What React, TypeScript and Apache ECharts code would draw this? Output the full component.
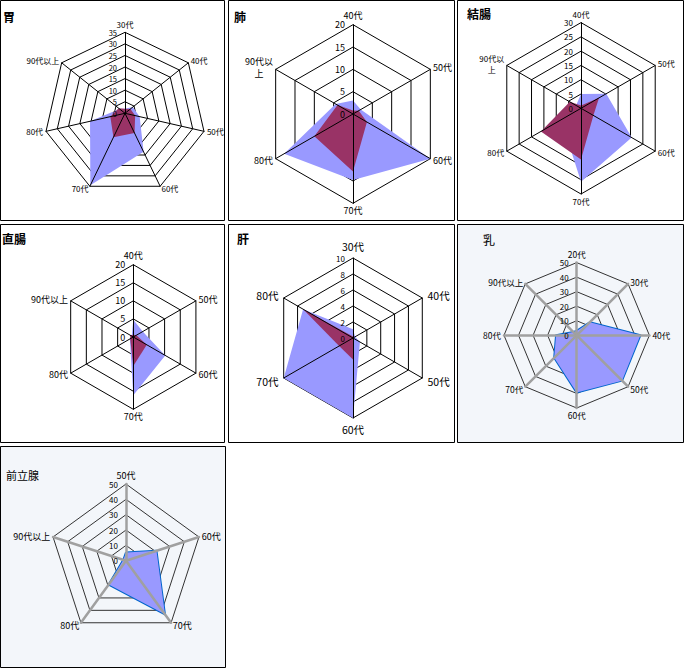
import React, { useEffect, useRef } from 'react';
import * as echarts from 'echarts';

const FONT = '"Noto Sans CJK JP", "Noto Sans", sans-serif';

// 胃
const stomachAxes = ['30代', '40代', '50代', '60代', '70代', '80代', '90代以上'];
const stomachS1 = [2, 4.3, 6.5, 18.5, 34.5, 15.5, 3];
const stomachS2 = [2, 3, 4.5, 9.5, 11.5, 6.5, 3.5];
// 肺
const lungAxes = ['40代', '50代', '60代', '70代', '80代', '90代以上'];
const lungS1 = [3, 2, 20, 14.8, 17.8, 4.5];
const lungS2 = [0.8, 1.5, 3.6, 12.9, 10, 4];
// 結腸
const colonAxes = ['40代', '50代', '60代', '70代', '80代', '90代以上'];
const colonS1 = [5, 10.2, 20.5, 25.7, 8, 2];
const colonS2 = [1, 7.3, 5, 17.9, 16.2, 4.5];
// 直腸
const rectumAxes = ['40代', '50代', '60代', '70代', '80代', '90代以上'];
const rectumS1 = [4.8, 3, 10.2, 16.1, 1.1, 0.5];
const rectumS2 = [0.6, 1, 4.3, 8, 1, 1];
// 肝
const liverAxes = ['30代', '40代', '50代', '60代', '70代', '80代'];
const liverS1 = [1.1, 0.3, 1, 10, 10, 7.2];
const liverS2 = [0.2, 0, 0, 2.7, 2, 7.2];
// 乳
const breastAxes = ['20代', '30代', '40代', '50代', '60代', '70代', '80代', '90代以上'];
const breastS1 = [3, 12.7, 43.8, 44.1, 39.4, 21.9, 14.2, 3.2];
// 前立腺
const prostateAxes = ['50代', '60代', '70代', '80代', '90代以上'];
const prostateS1 = [5.4, 20.9, 43.2, 19.2, 1.8];

const titles = ['胃', '肺', '結腸', '直腸', '肝', '乳', '前立腺'];
const maxes = [35, 20, 30, 20, 10, 50, 50];
const intervals = [5, 5, 5, 5, 2, 10, 10];

const COLOR1 = '#9999FF';
const COLOR2 = '#993366';

type Panel = {
  title: string;
  axes: string[];
  s1: number[];
  s2?: number[];
  max: number;
  interval: number;
  box: [number, number, number, number];
  center: [number, number];
  radius: number;
  modern: boolean;
  nameSize: number;
  nameGap: number;
  labelSize: number;
  titleBold: boolean;
  titleSize: number;
  titlePos: [number, number];
  wrap: boolean;
};

const panels: Panel[] = [
  { title: titles[0], axes: stomachAxes, s1: stomachS1, s2: stomachS2, max: maxes[0], interval: intervals[0],
    box: [0, 0, 225, 221], center: [125, 113.3], radius: 81, modern: false, nameSize: 8, nameGap: 3, labelSize: 7.5,
    titleBold: true, titleSize: 12, titlePos: [3, 10], wrap: false },
  { title: titles[1], axes: lungAxes, s1: lungS1, s2: lungS2, max: maxes[1], interval: intervals[1],
    box: [228, 0, 227, 221], center: [353, 114], radius: 89.3, modern: false, nameSize: 9, nameGap: 3, labelSize: 9,
    titleBold: true, titleSize: 12, titlePos: [234, 10], wrap: true },
  { title: titles[2], axes: colonAxes, s1: colonS1, s2: colonS2, max: maxes[2], interval: intervals[2],
    box: [457, 0, 227, 221], center: [581, 108.3], radius: 85.7, modern: false, nameSize: 8, nameGap: 3, labelSize: 8,
    titleBold: true, titleSize: 12, titlePos: [467, 7], wrap: true },
  { title: titles[3], axes: rectumAxes, s1: rectumS1, s2: rectumS2, max: maxes[3], interval: intervals[3],
    box: [0, 224, 225, 219], center: [133.3, 337], radius: 72.3, modern: false, nameSize: 9, nameGap: 3, labelSize: 9,
    titleBold: true, titleSize: 12, titlePos: [2, 232], wrap: false },
  { title: titles[4], axes: liverAxes, s1: liverS1, s2: liverS2, max: maxes[4], interval: intervals[4],
    box: [228, 224, 227, 219], center: [353, 338], radius: 80, modern: false, nameSize: 10.5, nameGap: 6, labelSize: 8,
    titleBold: true, titleSize: 12, titlePos: [237, 232], wrap: false },
  { title: titles[5], axes: breastAxes, s1: breastS1, max: maxes[5], interval: intervals[5],
    box: [457, 224, 227, 219], center: [576.7, 335.3], radius: 72.7, modern: true, nameSize: 8.5, nameGap: 3, labelSize: 8,
    titleBold: false, titleSize: 12, titlePos: [483, 233], wrap: false },
  { title: titles[6], axes: prostateAxes, s1: prostateS1, max: maxes[6], interval: intervals[6],
    box: [0, 446, 226, 222], center: [126, 560.7], radius: 76.7, modern: true, nameSize: 9, nameGap: 3, labelSize: 8,
    titleBold: false, titleSize: 11, titlePos: [6, 469], wrap: false },
];

// ECharts places indicators counter-clockwise; reorder so they run clockwise from the top.
function cw<T>(arr: T[]): T[] {
  return [arr[0], ...arr.slice(1).reverse()];
}

function buildOption() {
  const radar: any[] = [];
  const series: any[] = [];
  const title: any[] = [];
  const graphic: any[] = [];

  panels.forEach((p, i) => {
    const split = Math.round(p.max / p.interval);
    const ind = cw(p.axes);
    const labelStyle = { fontSize: p.labelSize, fontFamily: FONT, color: '#000000', margin: 8 };
    const lh = p.nameSize + 3;
    graphic.push({
      type: 'rect',
      z: -10,
      shape: { x: p.box[0] + 0.5, y: p.box[1] + 0.5, width: p.box[2] - 1, height: p.box[3] - 1 },
      style: { fill: p.modern ? '#F3F6FA' : '#FFFFFF', stroke: '#000000', lineWidth: 1 },
      silent: true,
    });
    title.push({
      text: p.title,
      left: p.titlePos[0],
      top: p.titlePos[1],
      padding: 0,
      textStyle: { fontSize: p.titleSize, fontWeight: p.titleBold ? 'bold' : 'normal', fontFamily: FONT, color: '#000' },
    });
    // base radar: rings only
    radar.push({
      center: p.center,
      radius: p.radius,
      startAngle: 90,
      shape: 'polygon',
      splitNumber: split,
      indicator: ind.map((n) => ({ name: n, min: 0, max: p.max })),
      axisName: { show: false },
      axisLine: { show: false },
      axisTick: { show: false },
      axisLabel: { show: false },
      splitArea: { show: false },
      splitLine: { show: true, lineStyle: { color: p.modern ? '#333333' : '#000000', width: 1 } },
      z: 0,
    });
    // overlay radar: spokes, value labels on the first axis, names
    radar.push({
      center: p.center,
      radius: p.radius,
      startAngle: 90,
      shape: 'polygon',
      splitNumber: split,
      nameGap: p.nameGap,
      indicator: ind.map((n, k) => (k === 0
        ? { name: n, min: 0, max: p.max, axisLabel: { show: true, ...labelStyle } }
        : { name: n, min: 0, max: p.max })),
      axisName: {
        show: true,
        color: '#000',
        fontSize: p.nameSize,
        fontFamily: FONT,
        formatter: (n: string) => (p.wrap && n === '90代以上' ? '{a|90代以}\n{b|上}' : n),
        rich: {
          a: { fontSize: p.nameSize, fontFamily: FONT, color: '#000', lineHeight: lh },
          b: { fontSize: p.nameSize, fontFamily: FONT, color: '#000', align: 'center', lineHeight: lh },
        },
      },
      axisLine: { show: true, lineStyle: { color: p.modern ? '#A0A0A0' : '#000000', width: p.modern ? 2.5 : 1 } },
      axisTick: { show: false },
      axisLabel: { show: false, ...labelStyle },
      splitArea: { show: false },
      splitLine: { show: false },
      z: 3,
    });
    const data: any[] = [
      {
        name: '系列1',
        value: cw(p.s1),
        areaStyle: { color: COLOR1, opacity: 1 },
        lineStyle: p.modern ? { color: '#0066CC', width: 2 } : { width: 0, opacity: 0 },
      },
    ];
    if (p.s2) {
      data.push({
        name: '系列2',
        value: cw(p.s2),
        areaStyle: { color: COLOR2, opacity: 1 },
        lineStyle: { width: 0, opacity: 0 },
      });
    }
    series.push({
      type: 'radar',
      radarIndex: i * 2,
      symbol: 'none',
      silent: true,
      z: 2,
      areaStyle: { opacity: 1 },
      data,
    });
  });

  return {
    animation: false,
    backgroundColor: '#FFFFFF',
    textStyle: { fontFamily: FONT },
    title,
    radar,
    series,
    graphic,
  };
}

export default function App() {
  const ref = useRef<HTMLDivElement>(null);
  useEffect(() => {
    document.body.style.margin = '0';
    if (!ref.current) return;
    const chart = echarts.init(ref.current, undefined, { renderer: 'svg' });
    chart.setOption(buildOption() as any);
    return () => chart.dispose();
  }, []);
  return <div ref={ref} style={{ width: 684, height: 668, position: 'absolute', left: 0, top: 0 }} />;
}
